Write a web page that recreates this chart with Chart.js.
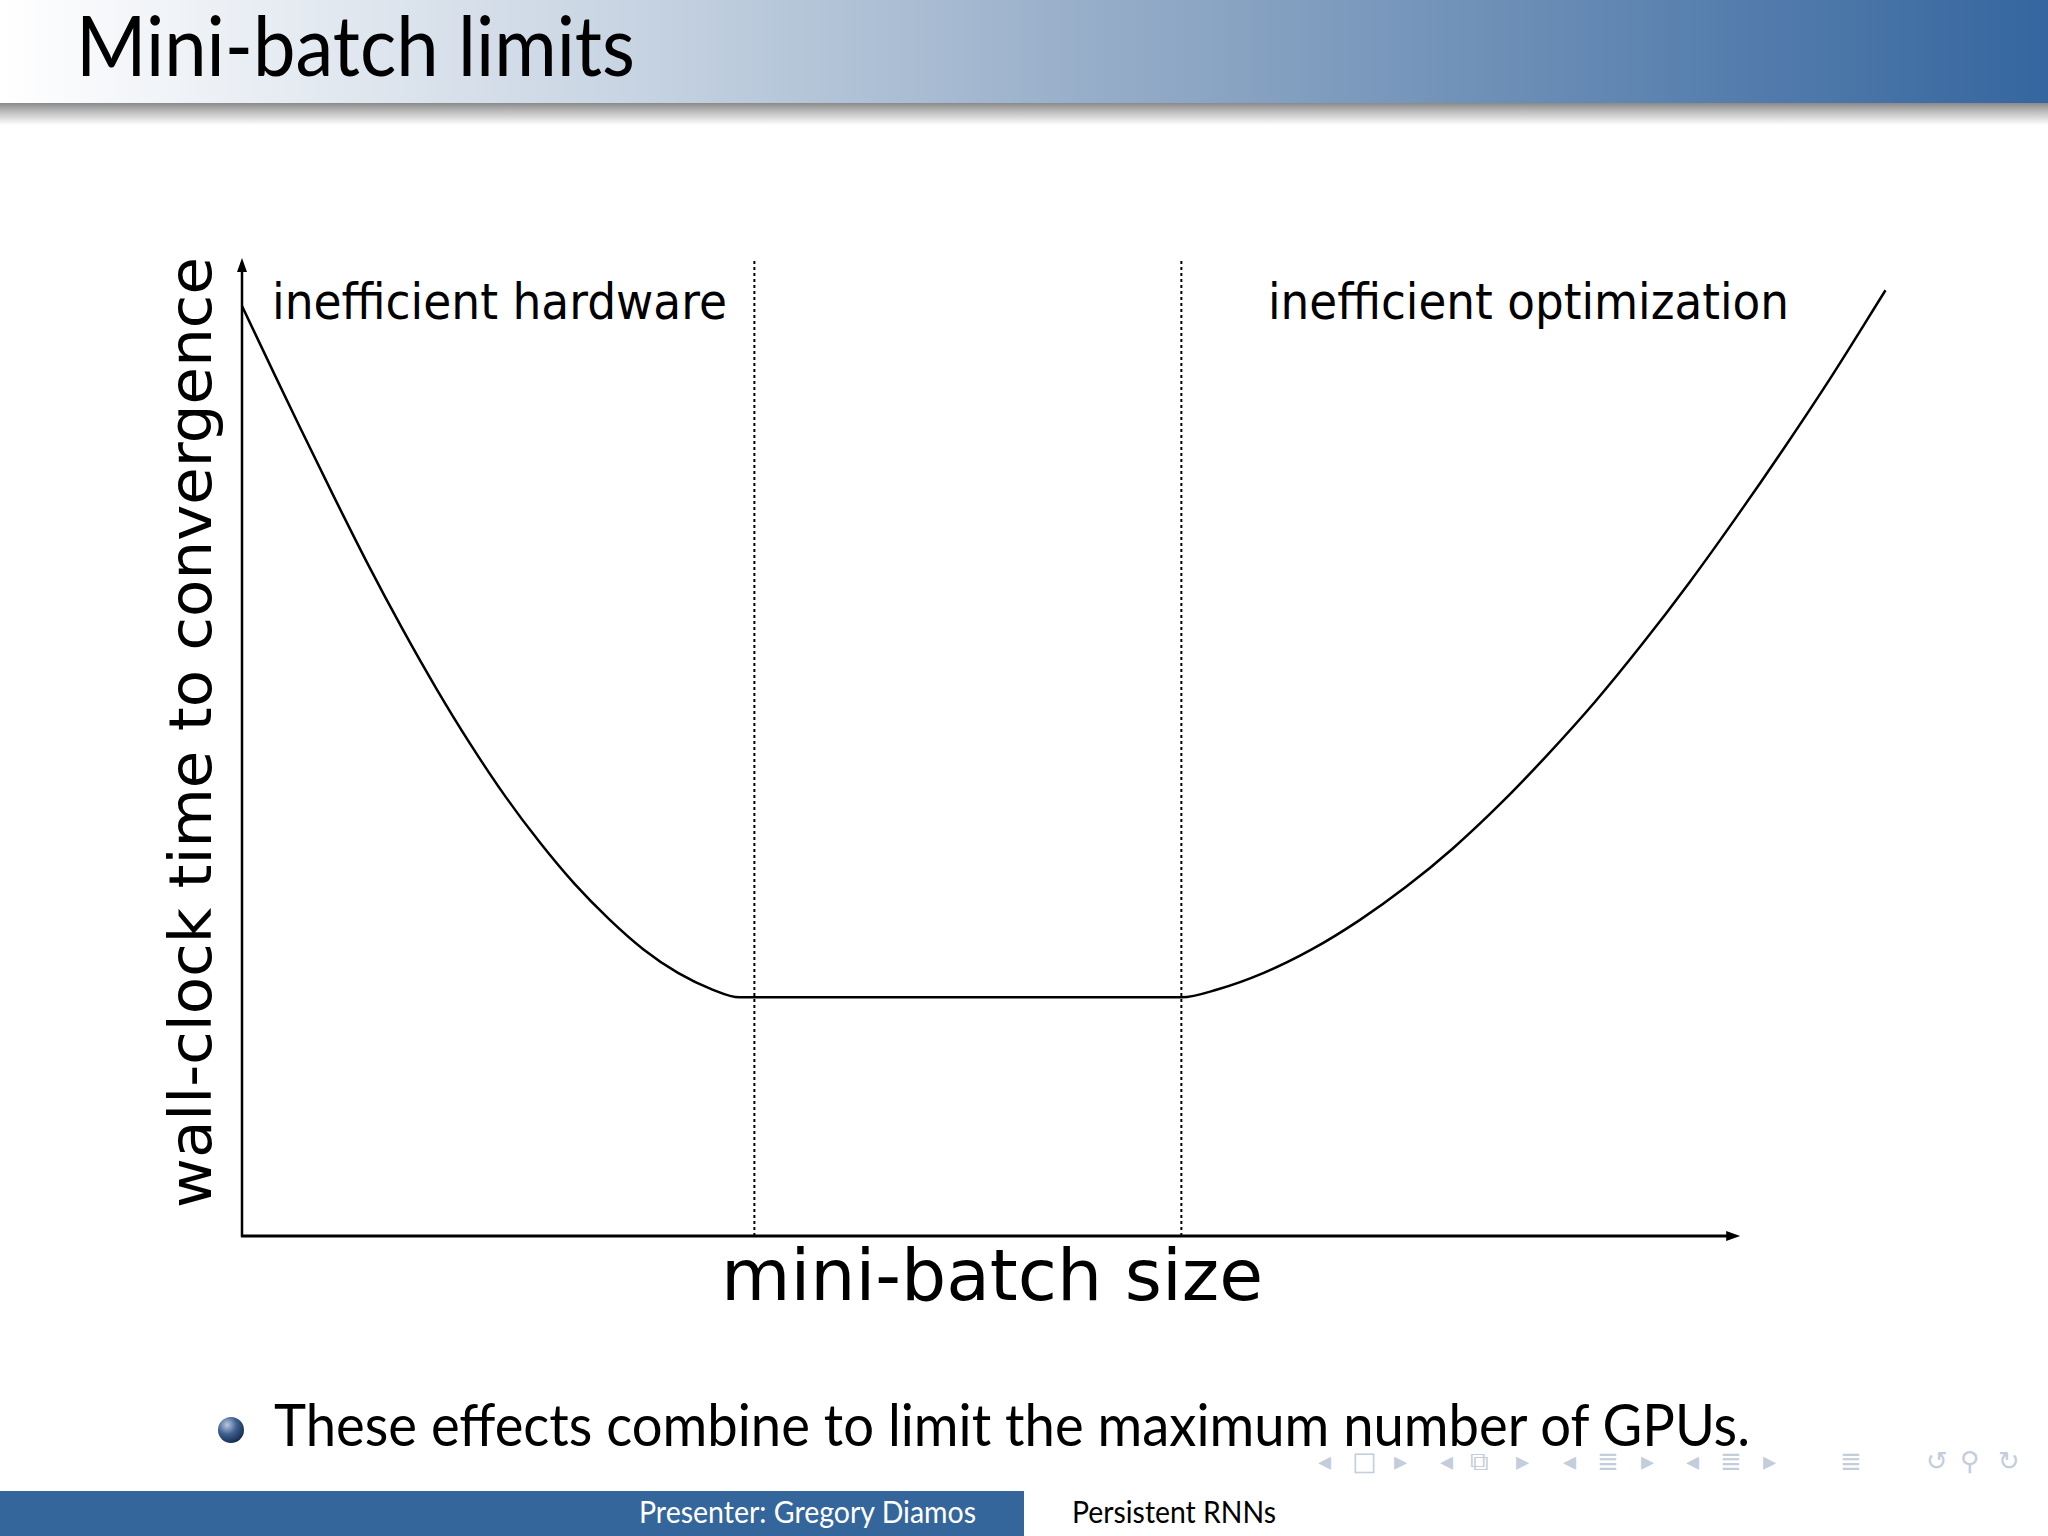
<!DOCTYPE html>
<html>
<head>
<meta charset="utf-8">
<script src="https://cdn.jsdelivr.net/npm/chart.js@4/dist/chart.umd.min.js"></script>
<style>
  html, body { margin: 0; padding: 0; background: #fff; }
  #page { position: relative; width: 2048px; height: 1536px; overflow: hidden; }
  #deco, #chart { position: absolute; left: 0; top: 0; }
</style>
</head>
<body>
<div id="page">
<svg id="deco" width="2048" height="1536" xmlns="http://www.w3.org/2000/svg">
  <defs>
    <linearGradient id="bar" x1="0" y1="0" x2="1" y2="0">
      <stop offset="0" stop-color="#ffffff"/>
      <stop offset="0.3" stop-color="#c9d5e3"/>
      <stop offset="0.55" stop-color="#93abc7"/>
      <stop offset="1" stop-color="#35669f"/>
    </linearGradient>
    <linearGradient id="shadow" x1="0" y1="0" x2="0" y2="1">
      <stop offset="0" stop-color="#8a8a8a"/>
      <stop offset="0.35" stop-color="#b8b8b8"/>
      <stop offset="1" stop-color="#ffffff"/>
    </linearGradient>
    <radialGradient id="ball" cx="0.35" cy="0.3" r="0.75">
      <stop offset="0" stop-color="#b9c8de"/>
      <stop offset="0.5" stop-color="#3d5f8e"/>
      <stop offset="1" stop-color="#14294b"/>
    </radialGradient>
  </defs>
  <rect x="0" y="0" width="2048" height="103" fill="url(#bar)"/>
  <rect x="0" y="103" width="2048" height="22" fill="url(#shadow)"/>
  <text x="76" y="76" font-family="Lato" font-size="84" fill="#000" textLength="559" lengthAdjust="spacingAndGlyphs">Mini-batch limits</text>

  <text x="272" y="319" font-family="DejaVu Sans" font-size="50" fill="#000" textLength="455" lengthAdjust="spacingAndGlyphs">inefficient hardware</text>
  <text x="1268" y="319" font-family="DejaVu Sans" font-size="50" fill="#000" textLength="521" lengthAdjust="spacingAndGlyphs">inefficient optimization</text>
  <text x="721" y="1300" font-family="DejaVu Sans" font-size="72" fill="#000" textLength="542" lengthAdjust="spacingAndGlyphs">mini-batch size</text>
  <text x="211" y="1208" transform="rotate(-90 211 1208)" font-family="DejaVu Sans" font-size="58" fill="#000" textLength="951" lengthAdjust="spacingAndGlyphs">wall-clock time to convergence</text>

  <circle cx="231" cy="1430" r="13" fill="url(#ball)"/>
  <text x="274" y="1446" font-family="Lato" font-size="58" fill="#000" textLength="1476" lengthAdjust="spacingAndGlyphs">These effects combine to limit the maximum number of GPUs.</text>

  <g font-family="DejaVu Sans" font-size="26" fill="#c3cddb">
    <text x="1318" y="1470">◂</text><text x="1352" y="1470">□</text><text x="1394" y="1470">▸</text>
    <text x="1440" y="1470">◂</text><text x="1470" y="1470">⧉</text><text x="1516" y="1470">▸</text>
    <text x="1563" y="1470">◂</text><text x="1597" y="1470">≣</text><text x="1641" y="1470">▸</text>
    <text x="1686" y="1470">◂</text><text x="1720" y="1470">≣</text><text x="1763" y="1470">▸</text>
    <text x="1840" y="1470">≣</text>
    <text x="1926" y="1470">↺</text><text x="1960" y="1470">⚲</text><text x="1998" y="1470">↻</text>
  </g>

  <rect x="0" y="1491" width="1024" height="45" fill="#34669c"/>
  <text x="639" y="1523" font-family="Lato" font-size="30" fill="#fff" textLength="337" lengthAdjust="spacingAndGlyphs">Presenter: Gregory Diamos</text>
  <text x="1072" y="1523" font-family="Lato" font-size="30" fill="#000" textLength="204" lengthAdjust="spacingAndGlyphs">Persistent RNNs</text>
</svg>
<canvas id="chart" width="2048" height="1536"></canvas>
</div>
<script>
// mini-batch size (arbitrary units) vs wall-clock time to convergence
const batchSize = [0, 0.22, 0.38, 0.61, 0.84, 1.07, 1.30, 1.52, 1.76, 1.99, 2.22, 2.45, 2.68, 2.91, 3.14, 3.32,
  6.27, 6.51, 6.82, 7.14, 7.46, 7.77, 8.08, 8.40, 8.72, 9.03, 9.35, 9.66, 9.97, 10.29, 10.61, 10.97];
const wallClock = [9.51, 8.80, 8.29, 7.57, 6.87, 6.21, 5.59, 5.04, 4.49, 4.02, 3.60, 3.24, 2.93, 2.69, 2.52, 2.44,
  2.44, 2.52, 2.69, 2.93, 3.23, 3.57, 3.96, 4.42, 4.93, 5.46, 6.06, 6.68, 7.34, 8.05, 8.79, 9.67];
const regimeBounds = [3.42, 6.27];
const axisEndX = 10;
const axisEndY = 10;

const curve = batchSize.map((x, i) => ({ x: x, y: wallClock[i] }));
const boundarySets = regimeBounds.map(b => ({
  data: [{ x: b, y: 0 }, { x: b, y: axisEndY }],
  borderColor: '#000',
  borderWidth: 2,
  borderDash: [3, 3],
  pointRadius: 0,
  showLine: true
}));

// draw the two axes with arrow heads
const axesPlugin = {
  id: 'arrowAxes',
  afterDatasetsDraw(chart) {
    const c = chart.ctx;
    const xs = chart.scales.x, ys = chart.scales.y;
    const x0 = xs.getPixelForValue(0), y0 = ys.getPixelForValue(0);
    const x1 = xs.getPixelForValue(axisEndX), y1 = ys.getPixelForValue(axisEndY);
    c.save();
    c.strokeStyle = '#000';
    c.fillStyle = '#000';
    c.lineWidth = 2.5;
    c.beginPath();
    c.moveTo(x0, y0 + 1);
    c.lineTo(x0, y1 + 8);
    c.stroke();
    c.lineWidth = 3;
    c.beginPath();
    c.moveTo(x0 - 1, y0);
    c.lineTo(x1 - 8, y0);
    c.stroke();
    c.beginPath();
    c.moveTo(x0, y1);
    c.lineTo(x0 - 5, y1 + 14);
    c.lineTo(x0 + 5, y1 + 14);
    c.closePath();
    c.fill();
    c.beginPath();
    c.moveTo(x1, y0);
    c.lineTo(x1 - 14, y0 - 5);
    c.lineTo(x1 - 14, y0 + 5);
    c.closePath();
    c.fill();
    c.restore();
  }
};

new Chart(document.getElementById('chart').getContext('2d'), {
  type: 'scatter',
  data: {
    datasets: [
      {
        data: curve,
        borderColor: '#000',
        borderWidth: 2.5,
        pointRadius: 0,
        showLine: true,
        cubicInterpolationMode: 'monotone',
        clip: false
      },
      ...boundarySets
    ]
  },
  options: {
    responsive: false,
    animation: false,
    devicePixelRatio: 1,
    layout: { padding: { left: 242, right: 158, top: 258, bottom: 300 } },
    plugins: { legend: { display: false }, tooltip: { enabled: false } },
    scales: {
      x: { type: 'linear', min: 0, max: 11, display: false },
      y: { type: 'linear', min: 0, max: 10, display: false }
    }
  },
  plugins: [axesPlugin]
});
</script>
</body>
</html>
